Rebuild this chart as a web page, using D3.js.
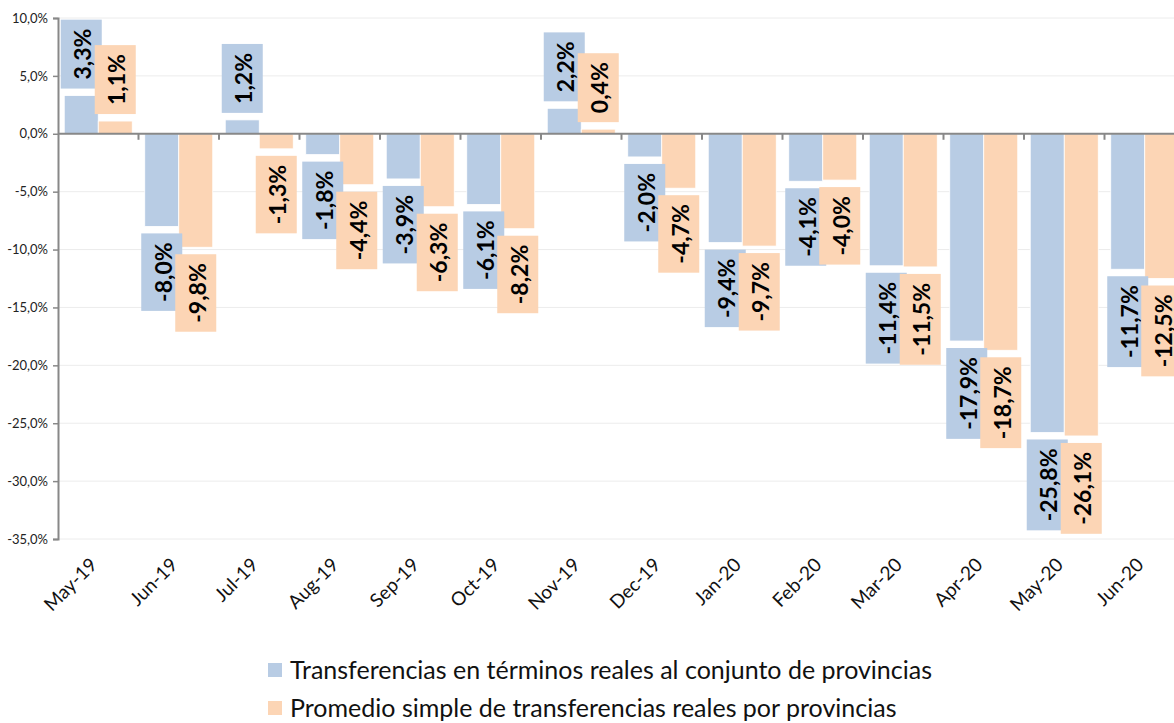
<!DOCTYPE html>
<html>
<head>
<meta charset="utf-8">
<script src="https://cdn.jsdelivr.net/npm/d3@7"></script>
<style>
  body { margin: 0; background: #fff; }
  svg { display: block; font-family: Lato, "Open Sans", sans-serif; }
</style>
</head>
<body>
<script>
const width = 1174, height = 723;

// data
const months = ["May-19", "Jun-19", "Jul-19", "Aug-19", "Sep-19", "Oct-19", "Nov-19",
                "Dec-19", "Jan-20", "Feb-20", "Mar-20", "Apr-20", "May-20", "Jun-20"];
const totalReal = [3.3, -8.0, 1.2, -1.8, -3.9, -6.1, 2.2, -2.0, -9.4, -4.1, -11.4, -17.9, -25.8, -11.7];
const avgProv = [1.1, -9.8, -1.3, -4.4, -6.3, -8.2, 0.4, -4.7, -9.7, -4.0, -11.5, -18.7, -26.1, -12.5];
const seriesNames = ["Transferencias en términos reales al conjunto de provincias",
                     "Promedio simple de transferencias reales por provincias"];
const yTicks = [10, 5, 0, -5, -10, -15, -20, -25, -30, -35];

const colors = ["#B8CCE4", "#FCD5B5"];
const series = [totalReal, avgProv];

const locale = d3.formatLocale({decimal: ",", thousands: ".", grouping: [3], currency: ["", ""], minus: "-"});
const fmt = locale.format(".1f");

const svg = d3.select("body").append("svg")
    .attr("width", width)
    .attr("height", height);

const plotLeft = 58, plotTop = 18, plotBottom = 539;
const step = 80.5;

const y = d3.scaleLinear().domain([-35, 10]).range([plotBottom, plotTop]);
const x = d3.scaleBand().domain(months).range([plotLeft, plotLeft + step * months.length]).padding(0);
const xs = d3.scaleBand().domain([0, 1]).range([6.25, step - 6.25]).padding(0);

// gridlines
svg.append("g").selectAll("line")
    .data(yTicks)
    .enter().append("line")
    .attr("x1", plotLeft).attr("x2", width)
    .attr("y1", d => y(d)).attr("y2", d => y(d))
    .attr("stroke", "#ececec")
    .attr("stroke-width", 1);

// bars
series.forEach((vals, s) => {
    svg.append("g").selectAll("rect")
        .data(vals)
        .enter().append("rect")
        .attr("x", (d, i) => x(months[i]) + xs(s))
        .attr("width", xs.bandwidth())
        .attr("y", d => Math.min(y(d), y(0)))
        .attr("height", d => Math.abs(y(d) - y(0)))
        .attr("fill", colors[s])
        .attr("stroke", "#fff")
        .attr("stroke-width", 0.8);
});

// zero line with ticks between categories
svg.append("line")
    .attr("x1", plotLeft).attr("x2", width)
    .attr("y1", y(0)).attr("y2", y(0))
    .attr("stroke", "#888").attr("stroke-width", 2);

svg.append("g").selectAll("line")
    .data(months.slice(1))
    .enter().append("line")
    .attr("x1", d => x(d)).attr("x2", d => x(d))
    .attr("y1", y(0)).attr("y2", y(0) + 6)
    .attr("stroke", "#888").attr("stroke-width", 2);

// y axis
const yAxis = d3.axisLeft(y)
    .tickValues(yTicks)
    .tickSize(5)
    .tickFormat(d => fmt(d) + "%");

const yg = svg.append("g")
    .attr("transform", `translate(${plotLeft},0)`)
    .call(yAxis);
yg.select(".domain").attr("stroke", "#888").attr("stroke-width", 2);
yg.selectAll(".tick line").attr("stroke", "#888").attr("stroke-width", 1.5);
yg.selectAll(".tick text")
    .attr("x", -10)
    .style("font-size", "13px")
    .style("font-family", "Lato, sans-serif")
    .attr("fill", "#222");

// x labels
svg.append("g").selectAll("text")
    .data(months)
    .enter().append("text")
    .attr("transform", d => `translate(${x(d) + step / 2},566) rotate(-45)`)
    .attr("text-anchor", "end")
    .style("font-size", "19px")
    .attr("fill", "#111")
    .text(d => d);

// data labels (boxes with rotated text)
const boxW = 41, gap = 7, pad = 9;
series.forEach((vals, s) => {
    const g = svg.append("g");
    vals.forEach((v, i) => {
        const cx = x(months[i]) + xs(s) + xs.bandwidth() / 2;
        const lg = g.append("g");
        const rect = lg.append("rect").attr("fill", colors[s]);
        const t = lg.append("text")
            .attr("text-anchor", "middle")
            .attr("dominant-baseline", "central")
            .style("font-size", "23px")
            .style("font-weight", "bold")
            .attr("fill", "#000")
            .text(fmt(v) + "%");
        const len = t.node().getComputedTextLength();
        const h = len + pad * 2;
        const y0 = v >= 0 ? y(v) - gap - h : y(v) + gap;
        rect.attr("x", cx - boxW / 2).attr("y", y0).attr("width", boxW).attr("height", h);
        t.attr("transform", `translate(${cx + 1},${y0 + h / 2}) rotate(-90)`);
    });
});

// legend
const legend = svg.append("g");
seriesNames.forEach((name, s) => {
    const base = 679 + s * 38;
    legend.append("rect")
        .attr("x", 268).attr("y", base - 16)
        .attr("width", 14).attr("height", 14)
        .attr("fill", colors[s]);
    legend.append("text")
        .attr("x", 290).attr("y", base)
        .style("font-size", "25px")
        .attr("fill", "#111")
        .text(name);
});
</script>
</body>
</html>
